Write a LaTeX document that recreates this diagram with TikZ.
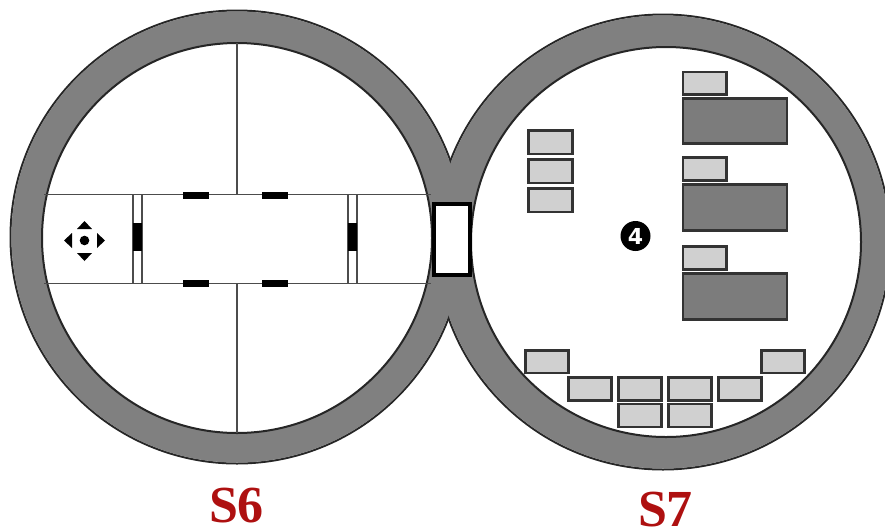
\documentclass[tikz,border=0pt]{standalone}
\usepackage{fontspec}
\setmainfont{Liberation Serif}
\newfontfamily\badgefont{DejaVu Sans}
\usepackage{xcolor}
\definecolor{ringgray}{HTML}{808080}
\definecolor{boxlight}{HTML}{D0D0D0}
\definecolor{boxdark}{HTML}{7C7C7C}
\definecolor{labelred}{HTML}{AE1010}
\tikzset{
lightbox/.style={draw=black!80, line width=2.1pt, fill=boxlight},
darkbox/.style={draw=black!80, line width=2.1pt, fill=boxdark},
wall/.style={draw=black!70, line width=1.7pt},
stop/.style={fill=black},
roomlabel/.style={text=labelred, font=\fontsize{52}{52}\selectfont\bfseries, inner sep=0pt}
}

\begin{document}
\begin{tikzpicture}[x=1pt,y=-1pt]
\useasboundingbox (0,0) rectangle (885,531);

% outer ring
\draw[black!85, line width=2pt] (237,237) circle [radius=226.5];
\draw[black!85, line width=2pt] (663,242) circle [radius=227.5];
\fill[ringgray] (237,237) circle [radius=225.6];
\fill[ringgray] (663,242) circle [radius=226.6];
\draw[black!85, line width=2pt, fill=white] (237,238) circle [radius=195];
\draw[black!85, line width=2pt, fill=white] (666,242) circle [radius=195];

% room S6
\draw[wall] (44,194.5)--(431,194.5);
\draw[wall] (44,283.5)--(431,283.5);
\draw[wall] (237,43)--(237,194.5);
\draw[wall] (237,283.5)--(237,433);
\draw[wall] (133,194.5)--(133,283.5);
\draw[wall] (142,194.5)--(142,283.5);
\draw[wall] (348,194.5)--(348,283.5);
\draw[wall] (357,194.5)--(357,283.5);

\fill[stop] (133,223) rectangle (142,251);
\fill[stop] (348,223) rectangle (357,251);
\fill[stop] (183,192) rectangle (209,199);
\fill[stop] (262,192) rectangle (288,199);
\fill[stop] (183,280) rectangle (209,287);
\fill[stop] (262,280) rectangle (288,287);

% move icon
\fill[black] (84.5,240.5) circle [radius=4.8];
\fill[black] (84.5,221)--(92,229)--(77,229)--cycle;
\fill[black] (84.5,261)--(92,253)--(77,253)--cycle;
\fill[black] (64,240.5)--(72,233)--(72,248)--cycle;
\fill[black] (105,240.5)--(97,233)--(97,248)--cycle;

% door
\draw[black, line width=4pt, fill=white] (434,204)rectangle(470,274.5);

% room S7
\draw[lightbox] (528.5,130.5) rectangle (572.5,154);
\draw[lightbox] (528.5,159.5) rectangle (572.5,183);
\draw[lightbox] (528.5,188.5) rectangle (572.5,212);

\draw[lightbox] (683,72) rectangle (726.5,94.5);
\draw[darkbox] (683,98.5) rectangle (787,143.5);
\draw[lightbox] (683,157.5) rectangle (726.5,180.5);
\draw[darkbox] (683,184.5) rectangle (787,230.5);
\draw[lightbox] (683,246.5) rectangle (726.5,269.5);
\draw[darkbox] (683,273.5) rectangle (787,319.5);

\draw[lightbox] (525.5,350.5) rectangle (568.5,373);
\draw[lightbox] (761.5,350.5) rectangle (804.5,373);
\draw[lightbox] (568.5,377.5) rectangle (611.5,400.5);
\draw[lightbox] (618.5,377.5) rectangle (661.5,400.5);
\draw[lightbox] (668.5,377.5) rectangle (711.5,400.5);
\draw[lightbox] (718.5,377.5) rectangle (761.5,400.5);
\draw[lightbox] (618.5,404) rectangle (661.5,427);
\draw[lightbox] (668.5,404) rectangle (711.5,427);

\node[circle, fill=black, minimum size=30pt, inner sep=0pt, text=white, font=\badgefont\fontsize{22}{22}\selectfont\bfseries] (badge) at (635.5,236) {4};

\node[roomlabel] (labelsix) at (236.5,506) {S6};
\node[roomlabel] (labelseven) at (665.5,510) {S7};

\end{tikzpicture}
\end{document}
